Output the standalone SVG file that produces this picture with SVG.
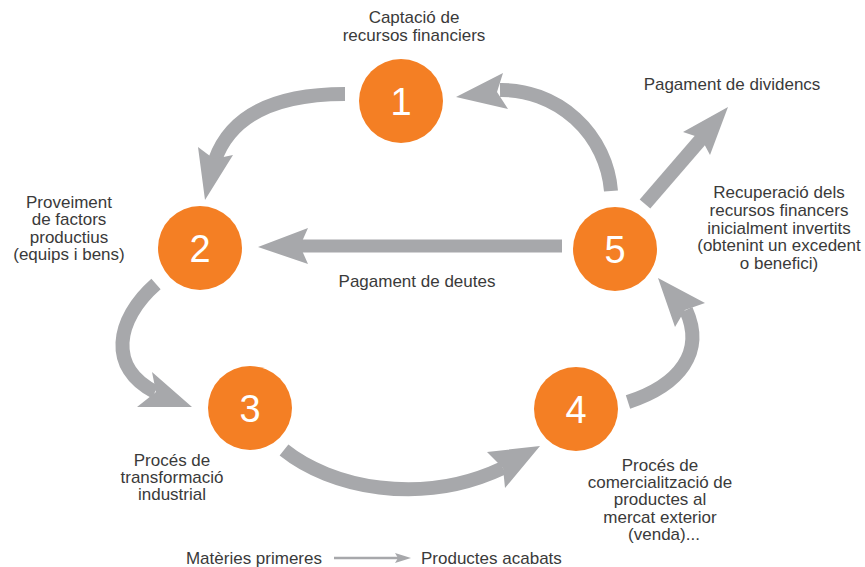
<svg xmlns="http://www.w3.org/2000/svg" width="865" height="567" viewBox="0 0 865 567">
<style>
.node circle{fill:#f47f24}
.num{font-family:"Liberation Sans",Arial,sans-serif;font-size:38px;fill:#fff;text-anchor:middle}
.lbl{font-family:"Liberation Sans",Arial,sans-serif;font-size:17px;fill:#3a3a3a;text-anchor:middle}
.shaft{fill:none;stroke:#a7a8ab;stroke-width:14;stroke-linecap:butt}
.head{fill:#a7a8ab}
</style>
<rect width="865" height="567" fill="#fff"/>
<g id="connectors">
  <path class="shaft" d="M345,94 C280,94 232,112 215,160"/>
  <polygon class="head" points="205,200 198,147 214,159 233,155"/>
  <path class="shaft" d="M611,191 A110,110 0 0 0 500,90"/>
  <polygon class="head" points="456,97 503,73 497,92 508,109"/>
  <path class="shaft" d="M156,284 C115,320 108,368 155,392"/>
  <polygon class="head" points="192,407 152,372 156,392 137,407"/>
  <path class="shaft" d="M284,450 C330,487 420,507 503,468"/>
  <polygon class="head" points="540,446 487,452 503,468 505,488"/>
  <path class="shaft" d="M628,402 C680,385 705,352 686,310"/>
  <polygon class="head" points="658,278 705,303 685,310 675,327"/>
  <path class="shaft" d="M562,246 L300,246" style="stroke-width:13"/>
  <polygon class="head" points="258,247 308,228 300,246 308,264"/>
  <path class="shaft" d="M645,204 L702,138"/>
  <polygon class="head" points="728,107 683,132 701,138 710,155"/>
  <line x1="334" y1="558" x2="399" y2="558" stroke="#a7a8ab" stroke-width="2.5"/>
  <polygon class="head" points="411,558 395,553 398,558 395,563"/>
</g>
<g id="node1" class="node"><circle cx="401" cy="101" r="42"/><text class="num" x="401" y="115">1</text></g>
<g id="node2" class="node"><circle cx="200" cy="248" r="42"/><text class="num" x="200" y="262">2</text></g>
<g id="node3" class="node"><circle cx="250" cy="408" r="42"/><text class="num" x="250" y="422">3</text></g>
<g id="node4" class="node"><circle cx="576" cy="409" r="42"/><text class="num" x="576" y="423">4</text></g>
<g id="node5" class="node"><circle cx="615" cy="249" r="42"/><text class="num" x="615" y="263">5</text></g>
<g id="labels">
  <text class="lbl" x="414" y="23">Captació de</text>
  <text class="lbl" x="414" y="41">recursos financiers</text>
  <text class="lbl" x="732" y="90">Pagament de dividencs</text>
  <text class="lbl" x="779" y="198">Recuperació dels</text>
  <text class="lbl" x="779" y="216">recursos financers</text>
  <text class="lbl" x="779" y="234">inicialment invertits</text>
  <text class="lbl" x="779" y="251">(obtenint un excedent</text>
  <text class="lbl" x="779" y="269">o benefici)</text>
  <text class="lbl" x="69" y="208">Proveiment</text>
  <text class="lbl" x="69" y="225">de factors</text>
  <text class="lbl" x="69" y="243">productius</text>
  <text class="lbl" x="69" y="260">(equips i bens)</text>
  <text class="lbl" x="417" y="287">Pagament de deutes</text>
  <text class="lbl" x="172" y="466">Procés de</text>
  <text class="lbl" x="172" y="483">transformació</text>
  <text class="lbl" x="172" y="500">industrial</text>
  <text class="lbl" x="660" y="471">Procés de</text>
  <text class="lbl" x="660" y="488">comercialització de</text>
  <text class="lbl" x="660" y="505">productes al</text>
  <text class="lbl" x="660" y="523">mercat exterior</text>
  <text class="lbl" x="664" y="540">(venda)...</text>
  <text class="lbl" x="322" y="564" style="text-anchor:end">Matèries primeres</text>
  <text class="lbl" x="421" y="564" style="text-anchor:start">Productes acabats</text>
</g>
</svg>
